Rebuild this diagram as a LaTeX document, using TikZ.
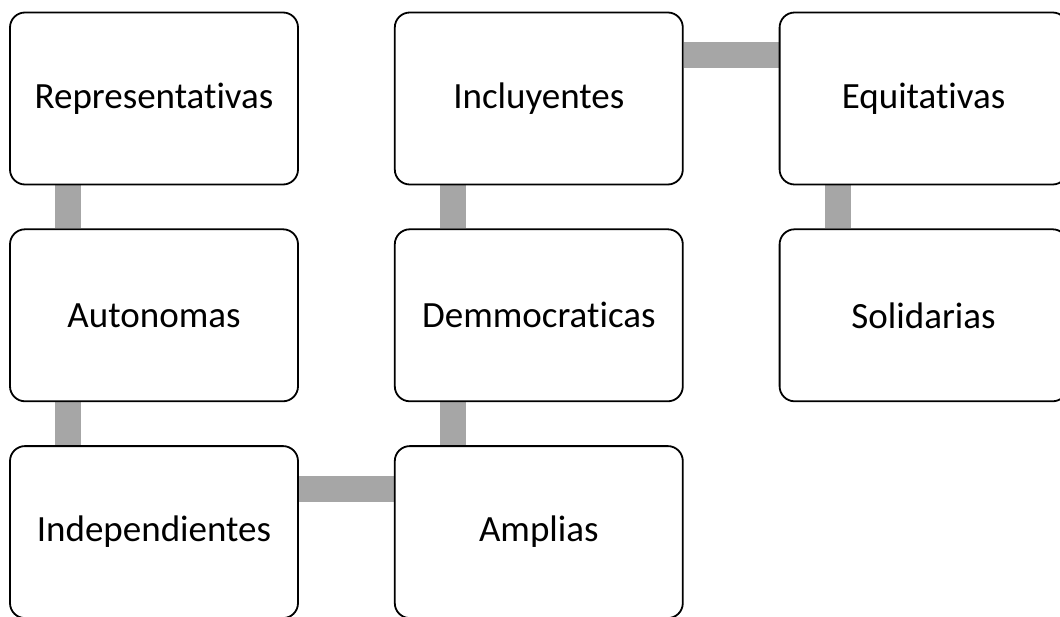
\documentclass[tikz,border=0pt]{standalone}
\usepackage{fontspec}
\setmainfont{Carlito}[Ligatures=NoCommon]
\usepackage{tikz}
\usetikzlibrary{positioning, backgrounds}
\definecolor{BoxLine}{RGB}{0,0,0}
\definecolor{LinkColor}{RGB}{166,166,166}
\tikzstyle{card} = [rectangle, rounded corners=15pt, draw=BoxLine, line width=1.8pt, fill=white, minimum width=288pt, minimum height=172pt, inner sep=0pt, font=\fontsize{37}{44}\selectfont]
\tikzstyle{link} = [line width=26pt, LinkColor]

\begin{document}
\begin{tikzpicture}[x=1pt, y=1pt, node distance=43pt and 95pt]
                \useasboundingbox (0,0) rectangle (1060,-617);

                % First column
                \node[card] (rep) at (154,-98.5) {Representativas};
                \node[card, below=of rep] (aut) {Autonomas};
                \node[card, below=of aut] (ind) {Independientes};

                % Second column
                \node[card, right=of ind] (amp) {Amplias};
                \node[card, above=of amp] (dem) {Demmocraticas};
                \node[card, above=of dem] (inc) {Incluyentes};

                % Third column
                \node[card, right=of inc] (equ) {Equitativas};
                \node[card, below=of equ] (sol) {Solidarias};

                % Links
                \begin{scope}[on background layer]
                \draw[link] ([xshift=-86pt]rep.south) -- ([xshift=-86pt]aut.north);
                \draw[link] ([xshift=-86pt]aut.south) -- ([xshift=-86pt]ind.north);
                \draw[link] ([yshift=43pt]ind.east) -- ([yshift=43pt]amp.west);
                \draw[link] ([xshift=-86pt]dem.south) -- ([xshift=-86pt]amp.north);
                \draw[link] ([xshift=-86pt]inc.south) -- ([xshift=-86pt]dem.north);
                \draw[link] ([yshift=43pt]inc.east) -- ([yshift=43pt]equ.west);
                \draw[link] ([xshift=-86pt]equ.south) -- ([xshift=-86pt]sol.north);
                \end{scope}
\end{tikzpicture}
\end{document}
